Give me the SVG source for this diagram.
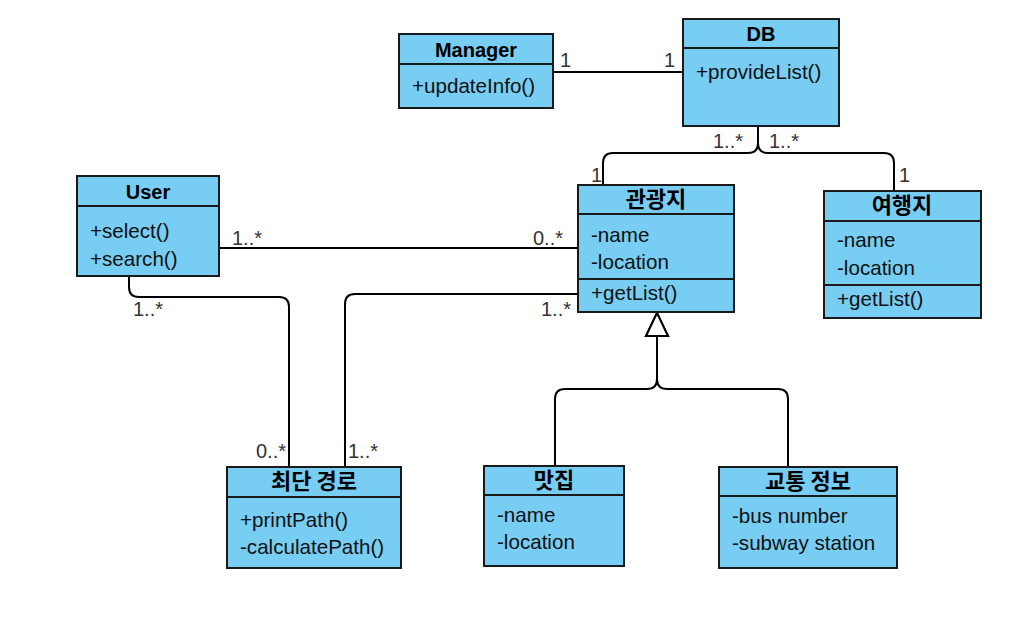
<svg xmlns="http://www.w3.org/2000/svg" width="1031" height="621" viewBox="0 0 1031 621">
<style>
.box{fill:#78CDF3;stroke:#1a1a1a;stroke-width:2}
.sep{stroke:#1a1a1a;stroke-width:2;fill:none}
.hd{font-family:"Liberation Sans","Noto Sans CJK KR",Arial,sans-serif;font-size:20px;font-weight:bold;fill:#000;text-anchor:middle}
.ko{font-family:"Noto Sans CJK KR",sans-serif;font-size:22px}
.at{font-family:"Liberation Sans",Arial,sans-serif;font-size:20.6px;fill:#111}
.ln{fill:none;stroke:#000;stroke-width:2}
.lb{font-family:"Liberation Sans",Arial,sans-serif;font-size:20px;fill:#333}
.e{text-anchor:end}
</style>
<defs>
<marker id="gen" markerUnits="userSpaceOnUse" markerWidth="24" markerHeight="24" refX="23" refY="11" orient="auto" overflow="visible">
<path d="M0,0 L23,11 L0,22 Z" fill="#fff" stroke="#000" stroke-width="2"/>
</marker>
</defs>
<rect width="1031" height="621" fill="#fff"/>

<g id="connectors">
<path class="ln" d="M553,72 H683"/>
<path class="ln" d="M758,126 V143 Q758,153 748,153 H613 Q603,153 603,163 V185"/>
<path class="ln" d="M758,126 V143 Q758,153 768,153 H884 Q894,153 894,163 V191"/>
<path class="ln" d="M219,248 H578"/>
<path class="ln" d="M129,276 V287 Q129,297 139,297 H279 Q289,297 289,307 V467"/>
<path class="ln" d="M578,294 H355 Q345,294 345,304 V467"/>
<path class="ln" d="M555,466 V399 Q555,389 565,389 H647 Q657,389 657,379 V313" marker-end="url(#gen)"/>
<path class="ln" d="M788,467 V399 Q788,389 778,389 H667 Q657,389 657,379 V313" marker-end="url(#gen)"/>
<text class="lb" x="560" y="67">1</text>
<text class="lb e" x="675" y="67">1</text>
<text class="lb e" x="743" y="148">1..*</text>
<text class="lb" x="769" y="148">1..*</text>
<text class="lb" x="591" y="182">1</text>
<text class="lb" x="899" y="182">1</text>
<text class="lb" x="232" y="245">1..*</text>
<text class="lb e" x="563" y="245">0..*</text>
<text class="lb" x="133" y="316">1..*</text>
<text class="lb e" x="571" y="316">1..*</text>
<text class="lb e" x="286" y="458">0..*</text>
<text class="lb" x="348" y="458">1..*</text>
</g>

<g id="manager">
<rect class="box" x="399" y="34" width="154" height="74"/>
<path class="sep" d="M399,64 H553"/>
<text class="hd" x="476" y="57">Manager</text>
<text class="at" x="412" y="93">+updateInfo()</text>
</g>

<g id="db">
<rect class="box" x="683" y="19" width="156" height="107"/>
<path class="sep" d="M683,48 H839"/>
<text class="hd" x="761" y="41">DB</text>
<text class="at" x="696" y="79">+provideList()</text>
</g>

<g id="user">
<rect class="box" x="77" y="176" width="142" height="100"/>
<path class="sep" d="M77,206 H219"/>
<text class="hd" x="148" y="199">User</text>
<text class="at" x="90" y="238">+select()</text>
<text class="at" x="90" y="266">+search()</text>
</g>

<g id="gwangwangji">
<rect class="box" x="578" y="185" width="156" height="127"/>
<path class="sep" d="M578,214 H734 M578,279 H734"/>
<text class="hd ko" x="656" y="207">관광지</text>
<text class="at" x="591" y="242">-name</text>
<text class="at" x="591" y="269">-location</text>
<text class="at" x="591" y="300">+getList()</text>
</g>

<g id="yeohaengji">
<rect class="box" x="824" y="191" width="157" height="127"/>
<path class="sep" d="M824,221 H981 M824,285 H981"/>
<text class="hd ko" x="902" y="213">여행지</text>
<text class="at" x="837" y="247">-name</text>
<text class="at" x="837" y="275">-location</text>
<text class="at" x="837" y="306">+getList()</text>
</g>

<g id="shortest-path">
<rect class="box" x="227" y="467" width="174" height="101"/>
<path class="sep" d="M227,497 H401"/>
<text class="hd ko" x="314" y="489">최단 경로</text>
<text class="at" x="240" y="527">+printPath()</text>
<text class="at" x="240" y="554">-calculatePath()</text>
</g>

<g id="matjip">
<rect class="box" x="484" y="466" width="140" height="100"/>
<path class="sep" d="M484,495 H624"/>
<text class="hd ko" x="554" y="488">맛집</text>
<text class="at" x="497" y="522">-name</text>
<text class="at" x="497" y="549">-location</text>
</g>

<g id="traffic-info">
<rect class="box" x="719" y="467" width="178" height="101"/>
<path class="sep" d="M719,496 H897"/>
<text class="hd ko" x="808" y="489">교통 정보</text>
<text class="at" x="732" y="523">-bus number</text>
<text class="at" x="732" y="550">-subway station</text>
</g>
</svg>
